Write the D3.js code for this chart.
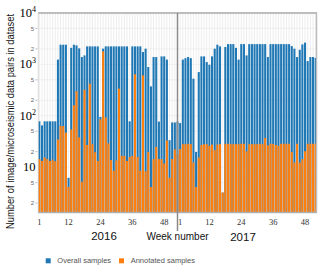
<!DOCTYPE html>
<html><head><meta charset="utf-8">
<script src="https://cdn.jsdelivr.net/npm/d3@7"></script>
<style>body{margin:0;background:#fff}svg{display:block}</style>
</head><body>
<svg id="c" width="320" height="267"></svg>
<script>
// Weekly counts, 2016 (53 weeks) and 2017 (52 weeks)
const overall2016 = [78,65,78,78,78,78,78,1240,2415,2415,2415,6.2,2100,2415,2340,2050,1390,1495,2240,2240,2240,2240,2240,95,2020,2240,2240,2240,2240,2240,2240,2240,2240,2240,78,2240,2240,2240,2240,1740,2020,887,373,1390,1390,77,1430,1430,1240,33.5,74,74,77];
const annotated2016 = [14.3,13.2,15.4,14.3,13.2,14,13,34.5,63,63,47,4.1,54,160,300,38,5.2,320,27,420,28,19.5,13.2,85,1800,93,29,13.7,8.5,13.5,337,16.6,16.6,13.2,15.8,16.6,640,15.8,8.5,610,8.3,19.8,4.1,14.3,24.8,14.3,14.3,11.8,33,6.2,14.3,22,17.7];
const overall2017 = [72,1240,1320,1390,1320,527,19.8,708,1430,1430,1110,985,1430,2020,2415,2240,3.2,2180,2480,2480,2480,2100,1240,2480,2480,1495,2480,2480,2480,2480,2480,2480,2480,1390,2480,2480,2480,2480,2480,2480,2480,2480,2270,2020,1390,1920,2450,2650,1160,1390,1390,1340];
const annotated2017 = [22.4,28,28,28.5,28,12.3,4.1,15.4,27,28,28,26,27.5,21.4,27.5,28,3.2,28.5,28.5,28,28,28,28,28.5,28.5,20.4,28,28,28,28,28.5,28,37,26.5,28.5,28.2,27,26,28.5,28.5,28.5,28.5,19.8,12.3,28.5,12.3,14.3,20.4,28.5,28.5,28.5,28.5];
const years = ["2016","2017"];
const weekTickLabels = [1,12,24,36,48];
const yMajorTicks = [10,100,1000,10000];
const yMinorTicks = [2,5,20,50,200,500,2000,5000];
const seriesNames = ["Overall samples","Annotated samples"];
const colors = ["#1f77b4","#ff7f0e"];

const rows = [];
overall2016.forEach((v,i)=>rows.push({key:"2016-"+(i+1), year:"2016", week:i+1, overall:v, annotated:annotated2016[i]}));
overall2017.forEach((v,i)=>rows.push({key:"2017-"+(i+1), year:"2017", week:i+1, overall:v, annotated:annotated2017[i]}));

const L=38, R=317, T=13, B=212;
const svg = d3.select("#c");
const x = d3.scaleBand().domain(rows.map(d=>d.key)).range([L,R]).paddingInner(0.22).paddingOuter(0.11);
const y = d3.scaleLog().domain([1.34,10000]).range([B,T]);
const cx = k => x(k) + x.bandwidth()/2;

// grid
svg.append("g").selectAll("line").data(rows).join("line")
  .attr("x1",d=>cx(d.key)).attr("x2",d=>cx(d.key)).attr("y1",T).attr("y2",B)
  .attr("stroke","#e9e9e9").attr("stroke-width",0.8);
svg.append("g").selectAll("line").data(yMajorTicks.concat(yMinorTicks)).join("line")
  .attr("x1",L).attr("x2",R).attr("y1",d=>y(d)).attr("y2",d=>y(d))
  .attr("stroke","#ececec").attr("stroke-width",0.8);

// bars
svg.append("g").selectAll("rect").data(rows).join("rect")
  .attr("x",d=>x(d.key)).attr("width",x.bandwidth())
  .attr("y",d=>y(d.overall)).attr("height",d=>B-y(d.overall))
  .attr("fill",colors[0]);
svg.append("g").selectAll("rect").data(rows).join("rect")
  .attr("x",d=>x(d.key)).attr("width",x.bandwidth())
  .attr("y",d=>y(d.annotated)).attr("height",d=>B-y(d.annotated))
  .attr("fill",colors[1]);

// spines
svg.append("line").attr("x1",L).attr("x2",R).attr("y1",T).attr("y2",T).attr("stroke","#bdbdbd").attr("stroke-width",2);
svg.append("line").attr("x1",R-0.5).attr("x2",R-0.5).attr("y1",T).attr("y2",B).attr("stroke","#bdbdbd").attr("stroke-width",1.5);
svg.append("line").attr("x1",L).attr("x2",R).attr("y1",B+0.5).attr("y2",B+0.5).attr("stroke","#b0b0b0").attr("stroke-width",1.5);
svg.append("line").attr("x1",L+0.3).attr("x2",L+0.3).attr("y1",T).attr("y2",B).attr("stroke","#d0d0d0").attr("stroke-width",0.8);

// separator between years
const sepX = cx("2016-" + overall2016.length);
svg.append("line").attr("x1",sepX).attr("x2",sepX).attr("y1",T).attr("y2",231)
  .attr("stroke","#8a8a8a").attr("stroke-width",1.5);

// y axis labels
const ym = svg.append("g").attr("font-family","Liberation Serif, serif").attr("fill","#000");
yMajorTicks.forEach(v=>{
  const e = Math.round(Math.log10(v));
  const t = ym.append("text").attr("x", e===1 ? 35.5 : 36).attr("y", y(v)+4).attr("text-anchor","end").attr("font-size",12.5).attr("fill","#000");
  t.append("tspan").attr("fill","#000").text("10");
  if (e>1) t.append("tspan").attr("font-size",8).attr("dy",-5).attr("fill","#000").text(String(e));
});
const yn = svg.append("g").attr("font-family","Liberation Sans, sans-serif").attr("fill","#666");
yMinorTicks.forEach(v=>{
  const lead = String(v)[0];
  yn.append("text").attr("x",34).attr("y",y(v)+2.2).attr("text-anchor","end").attr("font-size",6).text(lead);
  yn.append("line").attr("x1",35.3).attr("x2",37.5).attr("y1",y(v)).attr("y2",y(v)).attr("stroke","#999").attr("stroke-width",0.6);
});

// x tick labels
const xl = svg.append("g").attr("font-family","Liberation Serif, serif").attr("font-size",8.5).attr("fill","#333").attr("text-anchor","middle");
years.forEach(yr=>{
  weekTickLabels.forEach(w=>{
    xl.append("text").attr("x",cx(yr+"-"+w)).attr("y",225).text(w);
  });
});

// year labels and axis title
const sans = "Liberation Sans, Arial, sans-serif";
svg.append("text").attr("x",104).attr("y",240).attr("text-anchor","middle").attr("font-family",sans).attr("font-size",11.5).attr("fill","#111").text(years[0]);
svg.append("text").attr("x",243).attr("y",241).attr("text-anchor","middle").attr("font-family",sans).attr("font-size",11.5).attr("fill","#111").text(years[1]);
svg.append("text").attr("x",177.5).attr("y",239.5).attr("text-anchor","middle").attr("font-family",sans).attr("font-size",10).attr("fill","#111").text("Week number");
svg.append("text").attr("transform","translate(13.5,121.5) rotate(-90)").attr("text-anchor","middle")
  .attr("font-family",sans).attr("font-size",10).attr("fill","#111")
  .attr("textLength",215).attr("lengthAdjust","spacingAndGlyphs")
  .text("Number of image/microseismic data pairs in dataset");

// legend
const lg = svg.append("g");
const legX = [[45.7,57.3],[119,130.7]];
seriesNames.forEach((n,i)=>{
  lg.append("rect").attr("x",legX[i][0]).attr("y",258.3).attr("width",5).attr("height",5).attr("fill",colors[i]);
  lg.append("text").attr("x",legX[i][1]).attr("y",263.2).attr("font-family",sans).attr("font-size",7.5).attr("fill","#555").text(n);
});
</script>
</body></html>
